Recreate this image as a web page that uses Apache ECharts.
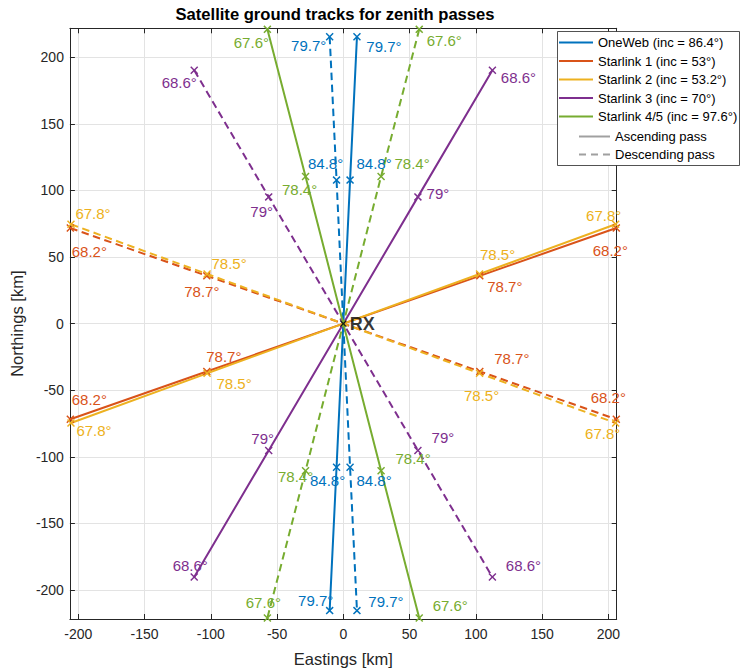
<!DOCTYPE html>
<html><head><meta charset="utf-8">
<script src="https://cdn.jsdelivr.net/npm/echarts@6/dist/echarts.min.js"></script>
<style>html,body{margin:0;padding:0;background:#fff}#chart{width:741px;height:672px}</style>
</head><body><div id="chart"></div>
<script>
// ---------------- data ----------------
const satNames = ['OneWeb (inc = 86.4°)', 'Starlink 1 (inc = 53°)', 'Starlink 2 (inc = 53.2°)', 'Starlink 3 (inc = 70°)', 'Starlink 4/5 (inc = 97.6°)'];
const passNames = ['Ascending pass', 'Descending pass'];

// ground tracks [Eastings km, Northings km]
const onewebAsc = [[-10.3, -215.5], [-5.1, -107.8], [0, 0], [5.1, 107.8], [10.3, 215.5]];
const onewebDesc = [[-10.3, 215.5], [-5.1, 107.8], [0, 0], [5.1, -107.8], [10.3, -215.5]];
const starlink1Asc = [[-206, -71.8], [-103, -35.9], [0, 0], [103, 35.9], [206, 71.8]];
const starlink1Desc = [[-206, 71.8], [-103, 35.9], [0, 0], [103, -35.9], [206, -71.8]];
const starlink2Asc = [[-205.5, -74.6], [-102.8, -37.3], [0, 0], [102.8, 37.3], [205.5, 74.6]];
const starlink2Desc = [[-205.5, 74.6], [-102.8, 37.3], [0, 0], [102.8, -37.3], [205.5, -74.6]];
const starlink3Asc = [[-112.5, -190.3], [-56.3, -95.2], [0, 0], [56.3, 95.2], [112.5, 190.3]];
const starlink3Desc = [[-112.5, 190.3], [-56.3, 95.2], [0, 0], [56.3, -95.2], [112.5, -190.3]];
const starlink45Asc = [[57.3, -221], [28.5, -110.5], [0, 0], [-28.5, 110.5], [-57.3, 221]];
const starlink45Desc = [[57.3, 221], [28.5, 110.5], [0, 0], [-28.5, -110.5], [-57.3, -221]];

// elevation angles at track ends and mid points
const endElevations = ['79.7°', '68.2°', '67.8°', '68.6°', '67.6°'];
const midElevations = ['84.8°', '78.7°', '78.5°', '79°', '78.4°'];

const rxPoint = [0, 0];
const rxLabel = 'RX';

const xTickLabels = [-200, -150, -100, -50, 0, 50, 100, 150, 200];
const yTickLabels = [-200, -150, -100, -50, 0, 50, 100, 150, 200];

// ---------------- style / layout ----------------
const satColors = ['#0072BD', '#D95319', '#EDB120', '#7E2F8E', '#77AC30'];
const passColor = '#a0a0a0';
const FONT = '"Liberation Sans", Arial, Helvetica, sans-serif';
const AX = '#262626';
// pixel offsets of each elevation label from its marker (markers at track indices 0,1,3,4)
const labelOffsets = [
  [[[-14, -10], [-9, 13], [24, -17], [27, 10]], [[-21, 9], [-11, -17], [24, 13], [29, -9]]],
  [[[19, -20], [17, -15], [25, 11], [-6, 22]], [[19, 23], [-5, 16], [32, -13], [-8, -22]]],
  [[[23, 8], [27, 10], [18, -19], [-12, -9]], [[22, -11], [22, -10], [2, 22], [-13, 11]]],
  [[[-4, -12], [-6, -12], [20, -3], [26, 7]], [[-15, 12], [-7, 15], [25, -13], [31, -12]]],
  [[[31, -12], [32, -12], [-6, 13], [-16, 13]], [[25, 11], [31, -13], [-10, 6], [-4, -15]]]
];
const tracks = [
  [onewebAsc, onewebDesc],
  [starlink1Asc, starlink1Desc],
  [starlink2Asc, starlink2Desc],
  [starlink3Asc, starlink3Desc],
  [starlink45Asc, starlink45Desc]
];
const markerIdx = [0, 1, 3, 4];
const xSymbol = 'path://M0,1.3L1.3,0L5,3.7L8.7,0L10,1.3L6.3,5L10,8.7L8.7,10L5,6.3L1.3,10L0,8.7L3.7,5Z';
const dashIcon = 'path://M0,0H7V2H0ZM12,0H19V2H12ZM24,0H31V2H24Z';

const X_MIN = -206.3, X_MAX = 206.3, Y_MIN = -221.8, Y_MAX = 221.8;

function buildData(points, sat, dir) {
  return points.map((p, i) => {
    const k = markerIdx.indexOf(i);
    if (k < 0) return { value: p, symbol: 'none', label: { show: false } };
    const txt = (i === 0 || i === points.length - 1) ? endElevations[sat] : midElevations[sat];
    return { value: p, label: { show: true, formatter: txt, offset: labelOffsets[sat][dir][k] } };
  });
}

const series = [];
tracks.forEach((pair, s) => {
  pair.forEach((pts, d) => {
    series.push({
      type: 'line',
      name: satNames[s],
      data: buildData(pts, s, d),
      color: satColors[s],
      symbol: xSymbol,
      symbolSize: 8,
      showSymbol: true,
      showAllSymbol: true,
      clip: false,
      animation: false,
      itemStyle: { color: satColors[s] },
      lineStyle: { color: satColors[s], width: 2, type: d === 0 ? 'solid' : [7.5, 4.5] },
      label: { position: 'inside', color: satColors[s], fontSize: 15, fontFamily: FONT, textBorderWidth: 0 },
      emphasis: { disabled: true },
      z: 3
    });
  });
});
passNames.forEach((n, i) => {
  series.push({
    type: 'line', name: n, data: [], color: passColor,
    itemStyle: { color: passColor },
    lineStyle: { color: passColor, width: 2, type: i === 0 ? 'solid' : 'dashed' }
  });
});
series.push({
  type: 'scatter',
  name: 'RX',
  data: [{ value: rxPoint }],
  symbol: xSymbol,
  symbolSize: 7,
  itemStyle: { color: '#000' },
  label: { show: true, formatter: rxLabel, position: 'right', distance: 3, color: '#000', fontSize: 18, fontWeight: 'bold', fontFamily: FONT },
  clip: false,
  animation: false,
  emphasis: { disabled: true },
  z: 6
});

const tickFmt = v => (Math.abs(v % 50) < 1e-9 ? String(v) : '');

const chart = echarts.init(document.getElementById('chart'), null, { renderer: 'svg' });
chart.setOption({
  animation: false,
  backgroundColor: '#fff',
  title: {
    text: 'Satellite ground tracks for zenith passes',
    left: 335, top: 6, textAlign: 'center', padding: 0,
    textStyle: { fontSize: 16.6, fontWeight: 'bold', color: '#000', fontFamily: FONT }
  },
  grid: { left: 66.7, top: 28.3, width: 550, height: 591.4, containLabel: false, show: false },
  xAxis: [{
    type: 'value', min: X_MIN, max: X_MAX, splitNumber: 8, position: 'bottom',
    name: 'Eastings [km]', nameLocation: 'middle', nameGap: 31,
    nameTextStyle: { fontSize: 16.5, color: AX, fontFamily: FONT },
    axisLine: { show: true, onZero: false, lineStyle: { color: AX, width: 1 } },
    axisTick: { show: true, inside: true, length: 5, lineStyle: { color: AX } },
    axisLabel: { show: true, margin: 8, fontSize: 14, color: AX, fontFamily: FONT, formatter: tickFmt, showMinLabel: false, showMaxLabel: false },
    splitLine: { show: true, lineStyle: { color: '#e3e3e3', width: 1 } }
  }, {
    type: 'value', min: X_MIN, max: X_MAX, splitNumber: 8, position: 'top',
    axisLine: { show: true, onZero: false, lineStyle: { color: AX, width: 1 } },
    axisTick: { show: true, inside: true, length: 5, lineStyle: { color: AX } },
    axisLabel: { show: false }, splitLine: { show: false }
  }],
  yAxis: [{
    type: 'value', min: Y_MIN, max: Y_MAX, splitNumber: 9, position: 'left',
    name: 'Northings [km]', nameLocation: 'middle', nameGap: 40,
    nameTextStyle: { fontSize: 16.5, color: AX, fontFamily: FONT },
    axisLine: { show: true, onZero: false, lineStyle: { color: AX, width: 1 } },
    axisTick: { show: true, inside: true, length: 5, lineStyle: { color: AX } },
    axisLabel: { show: true, margin: 6, fontSize: 14, color: AX, fontFamily: FONT, formatter: tickFmt, showMinLabel: false, showMaxLabel: false },
    splitLine: { show: true, lineStyle: { color: '#e3e3e3', width: 1 } }
  }, {
    type: 'value', min: Y_MIN, max: Y_MAX, splitNumber: 9, position: 'right',
    axisLine: { show: true, onZero: false, lineStyle: { color: AX, width: 1 } },
    axisTick: { show: true, inside: true, length: 5, lineStyle: { color: AX } },
    axisLabel: { show: false }, splitLine: { show: false }
  }],
  legend: [{
    data: satNames, orient: 'vertical', left: 559, top: 36, padding: 0,
    icon: 'rect', itemWidth: 34, itemHeight: 2, itemGap: 5.5,
    textStyle: { fontSize: 13, color: '#000', fontFamily: FONT },
    selectedMode: false, z: 20
  }, {
    data: [{ name: passNames[0], icon: 'rect' }, { name: passNames[1], icon: dashIcon }],
    orient: 'vertical', left: 579, top: 130, padding: 0,
    itemWidth: 31, itemHeight: 2, itemGap: 5,
    textStyle: { fontSize: 13, color: '#000', fontFamily: FONT },
    selectedMode: false, z: 20
  }],
  graphic: [{
    type: 'rect', z: 10,
    shape: { x: 557.5, y: 31.5, width: 182, height: 134 },
    style: { fill: '#fff', stroke: AX, lineWidth: 0.8 }
  }],
  series: series
});
</script></body></html>
